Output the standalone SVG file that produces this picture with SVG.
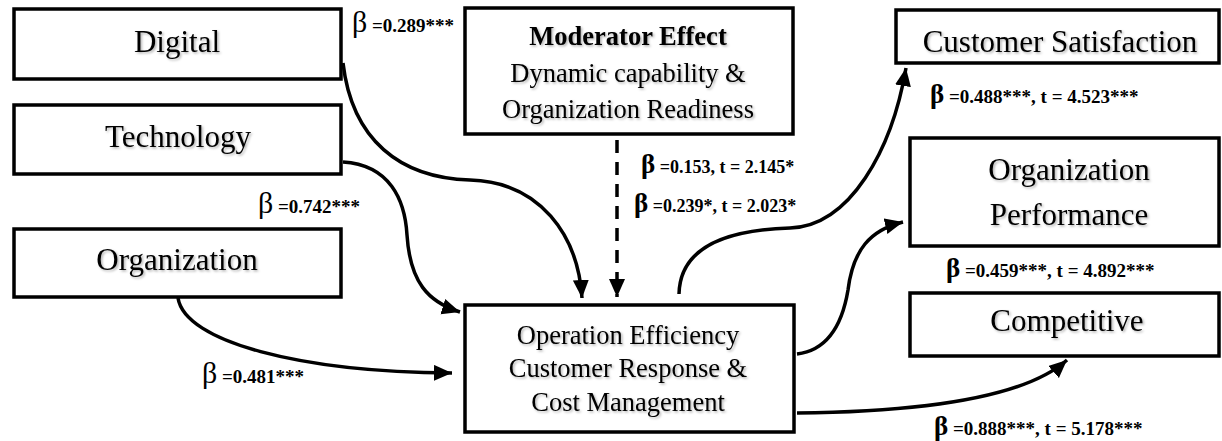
<svg xmlns="http://www.w3.org/2000/svg" width="1222" height="441" viewBox="0 0 1222 441">
<style>
.box{fill:#fff;stroke:#000;stroke-width:3.5}
.nt{font-family:"Liberation Serif","Times New Roman",serif;font-size:31px;fill:#000;text-anchor:middle;filter:url(#sh)}
.mt{font-family:"Liberation Serif","Times New Roman",serif;font-size:26.5px;fill:#000;text-anchor:middle;filter:url(#sh)}
.lb{font-family:"Liberation Serif","Times New Roman",serif;font-weight:bold;font-size:19px;fill:#000}
.lbs{font-family:"Liberation Serif","Times New Roman",serif;font-weight:bold;font-size:18px;fill:#000}
.br{font-weight:normal;font-size:30px}
.bb{font-weight:bold;font-size:27px}
.cn{fill:none;stroke:#000;stroke-width:3.5}
.dash{stroke-dasharray:13 9}
</style>
<defs>
<filter id="sh" x="-10%" y="-20%" width="120%" height="150%">
<feDropShadow dx="1.5" dy="1.5" stdDeviation="1" flood-color="#000" flood-opacity="0.3"/>
</filter>
<marker id="ah" markerUnits="userSpaceOnUse" markerWidth="20" markerHeight="18" refX="18" refY="8" orient="auto">
<path d="M0,0 L18,8 L0,16 Z" fill="#000"/>
</marker>
</defs>
<g id="connectors">
<path class="cn" d="M343,63 C352,140 400,178 470,180 C540,182 578,235 582,298" marker-end="url(#ah)"/>
<path class="cn" d="M343,162 C390,165 405,200 407,235 C410,282 428,302 460,312" marker-end="url(#ah)"/>
<path class="cn" d="M178,298 C185,342 300,372 452,373" marker-end="url(#ah)"/>
<path class="cn dash" d="M617,140 L617,297" marker-end="url(#ah)"/>
<path class="cn" d="M679,294 C680,250 720,230 790,228 C850,226 892,150 906,68" marker-end="url(#ah)"/>
<path class="cn" d="M797,354 C830,350 843,320 848,290 C853,250 870,230 903,222" marker-end="url(#ah)"/>
<path class="cn" d="M797,413 C900,412 1020,402 1067,360" marker-end="url(#ah)"/>
</g>
<g id="digital"><rect class="box" x="14" y="9" width="327" height="70"/><text class="nt" x="177" y="52">Digital</text></g>
<g id="technology"><rect class="box" x="14" y="105" width="327" height="69"/><text class="nt" x="178" y="147">Technology</text></g>
<g id="organization"><rect class="box" x="14" y="229" width="327" height="68"/><text class="nt" x="177" y="270">Organization</text></g>
<g id="moderator"><rect class="box" x="465" y="8" width="328" height="126"/>
<text class="mt" x="628" y="45" font-weight="bold">Moderator Effect</text>
<text class="mt" x="628" y="82">Dynamic capability &amp;</text>
<text class="mt" x="628" y="118">Organization Readiness</text></g>
<g id="customer-satisfaction"><rect class="box" x="896" y="10" width="323" height="53"/><text class="nt" x="1060" y="52">Customer Satisfaction</text></g>
<g id="organization-performance"><rect class="box" x="910" y="138" width="309" height="108"/><text class="nt" x="1069" y="180">Organization</text><text class="nt" x="1069" y="225">Performance</text></g>
<g id="competitive"><rect class="box" x="910" y="293" width="309" height="63"/><text class="nt" x="1067" y="331">Competitive</text></g>
<g id="operation"><rect class="box" x="465" y="305" width="329" height="127"/>
<text class="mt" x="628" y="344">Operation Efficiency</text>
<text class="mt" x="628" y="377">Customer Response &amp;</text>
<text class="mt" x="628" y="411">Cost Management</text></g>
<g id="labels">
<text class="lb" x="352" y="32"><tspan class="br">β</tspan> =0.289***</text>
<text class="lb" x="258" y="213"><tspan class="br">β</tspan> =0.742***</text>
<text class="lb" x="202" y="383"><tspan class="br">β</tspan> =0.481***</text>
<text class="lbs" x="641" y="173"><tspan class="bb">β</tspan> =0.153, t = 2.145*</text>
<text class="lbs" x="634" y="212"><tspan class="bb">β</tspan> =0.239*, t = 2.023*</text>
<text class="lb" x="930" y="103"><tspan class="bb">β</tspan> =0.488***, t = 4.523***</text>
<text class="lb" x="946" y="277"><tspan class="bb">β</tspan> =0.459***, t = 4.892***</text>
<text class="lb" x="934" y="435"><tspan class="bb">β</tspan> =0.888***, t = 5.178***</text>
</g>
</svg>
